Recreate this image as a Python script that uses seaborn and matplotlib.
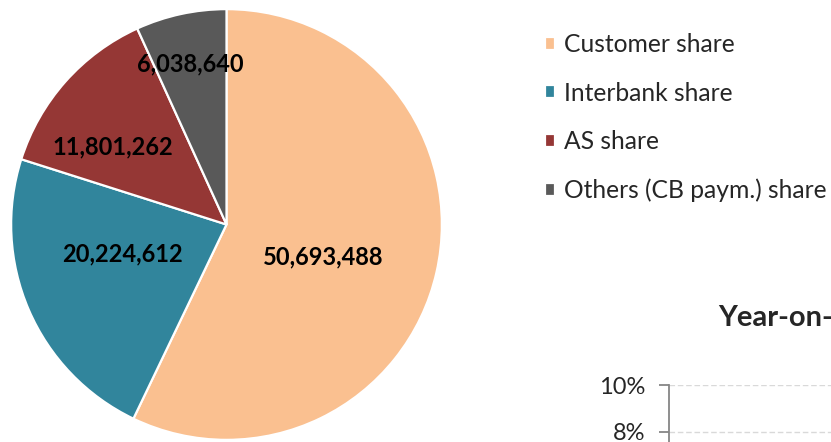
import matplotlib
matplotlib.use("Agg")
import matplotlib.pyplot as plt
import seaborn as sns
import numpy as np

# ---- data ----
categories = ["Customer share", "Interbank share", "AS share", "Others (CB paym.) share"]
values = [50693488, 20224612, 11801262, 6038640]
colors_hex = ["#FAC090", "#31859C", "#953735", "#595959"]
# label positions in pie-axis units (radius = 1)
label_xy = [(0.451, -0.150), (-0.483, -0.137), (-0.530, 0.361), (-0.169, 0.745)]

yoy_title = "Year-on-year growth"
yoy_ylim = (6, 10)
yoy_ticks = [8, 10]
yoy_ticklabels = ["8%", "10%"]

sns.set_theme(style="white")
plt.rcParams["font.family"] = ["Lato", "DejaVu Sans"]

W, H = 831, 442
fig = plt.figure(figsize=(W / 100, H / 100), dpi=100)
fig.patch.set_facecolor("white")

palette = sns.color_palette(colors_hex)

# ---- pie ----
cx, cy, R = 226.5, 224.5, 216
ax = fig.add_axes([(cx - R) / W, (H - (cy + R)) / H, 2 * R / W, 2 * R / H])
wedges, texts, autotexts = ax.pie(
    values,
    colors=palette,
    startangle=90,
    counterclock=False,
    autopct=lambda p: "",
    wedgeprops=dict(edgecolor="white", linewidth=1.6),
)
for t, v, (x, y) in zip(autotexts, values, label_xy):
    t.set_text(f"{v:,}")
    t.set_position((x, y))
    t.set_fontsize(17)
    t.set_fontweight("bold")
    t.set_color("black")
    t.set_ha("center")
    t.set_va("center")
ax.set_xlim(-1.003, 1.003)
ax.set_ylim(-1.003, 1.003)
ax.set_aspect("equal")
ax.axis("off")

# ---- legend ----
leg = fig.legend(
    wedges, categories,
    loc="upper left",
    bbox_to_anchor=(545 / W, 1 - 33 / H),
    frameon=False,
    fontsize=17.7,
    handlelength=0.42,
    handleheight=0.42,
    handletextpad=0.37,
    labelspacing=1.04,
    borderpad=0,
    borderaxespad=0,
)

# ---- second (partially visible) chart ----
px_per_unit = 47 / 2
top_px = 385
ymin, ymax = yoy_ylim
ax_h = (ymax - ymin) * px_per_unit
ax2 = fig.add_axes([669 / W, (H - top_px - ax_h) / H, 400 / W, ax_h / H])
ax2.set_ylim(ymin, ymax)
ax2.set_yticks(yoy_ticks)
ax2.set_yticklabels(yoy_ticklabels)
ax2.set_xticks([])
for s in ["top", "right", "bottom"]:
    ax2.spines[s].set_visible(False)
ax2.spines["left"].set_color("#868686")
ax2.spines["left"].set_linewidth(1.3)
ax2.tick_params(axis="y", length=7, width=1.3, color="#868686", labelsize=17, pad=10, left=True)
ax2.yaxis.grid(True, linestyle=(0, (4, 2)), color="#D9D9D9", linewidth=1.0)
ax2.set_axisbelow(True)
ax2.set_facecolor("none")

fig.text(718 / W, 1 - 318 / H, yoy_title, fontsize=21, fontweight="bold", ha="left", va="center")

fig.savefig("out.png", dpi=100)
